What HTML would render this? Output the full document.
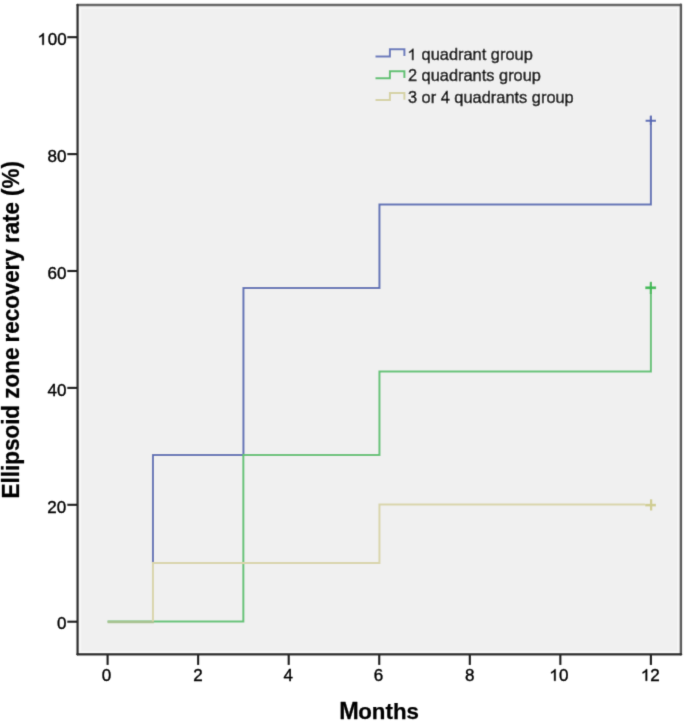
<!DOCTYPE html>
<html><head><meta charset="utf-8"><title>Ellipsoid zone recovery rate</title>
<style>
html,body{margin:0;padding:0;background:#fff;width:685px;height:722px;overflow:hidden}
svg{display:block}
text{font-family:"Liberation Sans",sans-serif;fill:#000;stroke:#000;stroke-width:0.38px;stroke-linejoin:round}
text.b{stroke-width:0.25px}
text.l{stroke-width:0.42px}
.one{fill:#000;stroke:#000;stroke-width:0.38px;stroke-linejoin:round;vector-effect:non-scaling-stroke}
</style></head>
<body>
<svg width="685" height="722" viewBox="0 0 685 722">
<defs><filter id="b" x="0" y="0" width="100%" height="100%" filterUnits="userSpaceOnUse"><feConvolveMatrix order="3" kernelMatrix="0.0144 0.0912 0.0144 0.0912 0.5776 0.0912 0.0144 0.0912 0.0144" edgeMode="duplicate"/></filter></defs>
<rect width="685" height="722" fill="#fff"/>
<g filter="url(#b)">
<!-- plot area -->
<rect x="78" y="5" width="603" height="649" fill="#f0f0f0"/>
<path d="M80.4,651.7 V8.1 H678.1 V651.7 Z" fill="none" stroke="#f8f8f8" stroke-width="1.4"/>
<!-- frame -->
<g fill="none" stroke-linecap="round">
<line x1="77.6" y1="5" x2="680.9" y2="5" stroke="#666" stroke-width="2.5"/>
<line x1="680.9" y1="4.8" x2="680.9" y2="654.3" stroke="#585858" stroke-width="2.4"/>
<line x1="77.6" y1="654.3" x2="680.9" y2="654.3" stroke="#303030" stroke-width="2.4"/>
<line x1="77.6" y1="4.8" x2="77.6" y2="654.3" stroke="#2e2e2e" stroke-width="2.3"/>
</g>
<!-- y ticks -->
<g stroke="#1c1c1c" stroke-width="2.1">
<line x1="67.3" y1="37.2" x2="77" y2="37.2"/>
<line x1="67.3" y1="154.1" x2="77" y2="154.1"/>
<line x1="67.3" y1="271" x2="77" y2="271"/>
<line x1="67.3" y1="387.9" x2="77" y2="387.9"/>
<line x1="67.3" y1="504.8" x2="77" y2="504.8"/>
<line x1="67.3" y1="621.7" x2="77" y2="621.7"/>
</g>
<!-- x ticks -->
<g stroke="#1c1c1c" stroke-width="2.1">
<line x1="107.6" y1="655" x2="107.6" y2="664.9"/>
<line x1="198.15" y1="655" x2="198.15" y2="664.9"/>
<line x1="288.7" y1="655" x2="288.7" y2="664.9"/>
<line x1="379.25" y1="655" x2="379.25" y2="664.9"/>
<line x1="469.8" y1="655" x2="469.8" y2="664.9"/>
<line x1="560.35" y1="655" x2="560.35" y2="664.9"/>
<line x1="650.9" y1="655" x2="650.9" y2="664.9"/>
</g>
<!-- y labels -->
<g font-size="17" text-anchor="end">
<text x="66.68" y="44.8"><tspan style="fill:none;stroke:none">1</tspan>00</text>
<text x="66.5" y="161.8">80</text>
<text x="66.5" y="278.6">60</text>
<text x="66.5" y="395.5">40</text>
<text x="66.2" y="513">20</text>
<text x="66.5" y="629.4">0</text>
</g>
<!-- x labels -->
<g font-size="17" text-anchor="middle">
<text x="106.6" y="680.8">0</text>
<text x="198" y="680.8">2</text>
<text x="288.3" y="680.8">4</text>
<text x="378.4" y="680.8">6</text>
<text x="469.7" y="680.8">8</text>
<text x="559.05" y="680.8"><tspan style="fill:none;stroke:none">1</tspan>0</text>
<text x="650.25" y="680.8"><tspan style="fill:none;stroke:none">1</tspan>2</text>
</g>
<!-- axis titles -->
<text class="b" transform="translate(339.3,719.3) scale(1.05,1.09)" font-size="22.3" font-weight="bold">M</text>
<text class="b" x="358.24" y="719" font-size="22.3" font-weight="bold">onths</text>
<text class="b" transform="translate(18.6,498.4) rotate(-90) scale(1,1.06)" font-size="22.35" font-weight="bold" textLength="150.8" lengthAdjust="spacingAndGlyphs">Ellipsoid zone</text>
<text class="b" transform="translate(18.6,342.4) rotate(-90) scale(1,1.06)" font-size="22.35" font-weight="bold">recovery rate (%)</text>

<!-- curves -->
<g fill="none" stroke-width="2" stroke-linejoin="miter" stroke-linecap="butt">
<path stroke="#5f71b6" d="M152.95,563.1 V455.1 H243.45 V288.1 H379.45 V204.5 H650.9 V115.7"/>
<path stroke="#5668b5" stroke-width="2.1" d="M645.6,120.8 H656 M650.9,115.7 V125"/>
<path stroke="#62c275" d="M107.6,621.6 H243.35 V455.1 H379.45 V371.4 H650.9 V282.7"/>
<path stroke="#3cba55" stroke-width="2.7" d="M645.3,287.8 H656.1"/>
<path stroke="#3cba55" stroke-width="2.2" d="M650.9,281.8 V294"/>
<path stroke="#a7c38f" stroke-width="2.6" d="M107.6,622 H153.9"/>
<path stroke="#d9d5ab" d="M152.95,621.2 V563.1 H379.45 V504.6 H645"/>
<path stroke="#d0cd92" stroke-width="2.6" d="M645.2,505.1 H655.9"/>
<path stroke="#d0cd92" stroke-width="2.3" d="M651.1,499.3 V510.5"/>
</g>

<!-- legend -->
<g fill="none" stroke-width="2">
<path stroke="#6677bb" d="M375.5,56.4 H389.9 V49.2 H404.4 V56.1"/>
<path stroke="#5cc06f" d="M375.5,78.3 H389.9 V71.3 H404.4 V78"/>
<path stroke="#d6d2a4" d="M375.5,100 H389.9 V93.1 H404.4 V99.8"/>
</g>
<g font-size="16.4">
<text class="l" x="407.9" y="60.1"><tspan style="fill:none;stroke:none">1</tspan> quadrant group</text>
<text class="l" x="407.9" y="81.3">2 quadrants group</text>
<text class="l" x="407.9" y="103.4">3 or 4 quadrants group</text>
</g>
<!-- Arial-style "1" glyphs -->
<path class="one" transform="translate(37.5,44.8) scale(0.008301,-0.007886)" d="M763,0 L583,0 L583,1147 Q518,1085 412,1023 Q306,961 221,930 L221,1104 Q372,1175 485,1276 Q598,1377 645,1472 L763,1472 Z"/>
<path class="one" transform="translate(549.3,680.8) scale(0.008301,-0.007886)" d="M763,0 L583,0 L583,1147 Q518,1085 412,1023 Q306,961 221,930 L221,1104 Q372,1175 485,1276 Q598,1377 645,1472 L763,1472 Z"/>
<path class="one" transform="translate(640.8,680.8) scale(0.008301,-0.007886)" d="M763,0 L583,0 L583,1147 Q518,1085 412,1023 Q306,961 221,930 L221,1104 Q372,1175 485,1276 Q598,1377 645,1472 L763,1472 Z"/>
<path class="one" transform="translate(407.3,60.1) scale(0.008057,-0.007654)" d="M763,0 L583,0 L583,1147 Q518,1085 412,1023 Q306,961 221,930 L221,1104 Q372,1175 485,1276 Q598,1377 645,1472 L763,1472 Z"/>
</g>
</svg>
</body></html>
